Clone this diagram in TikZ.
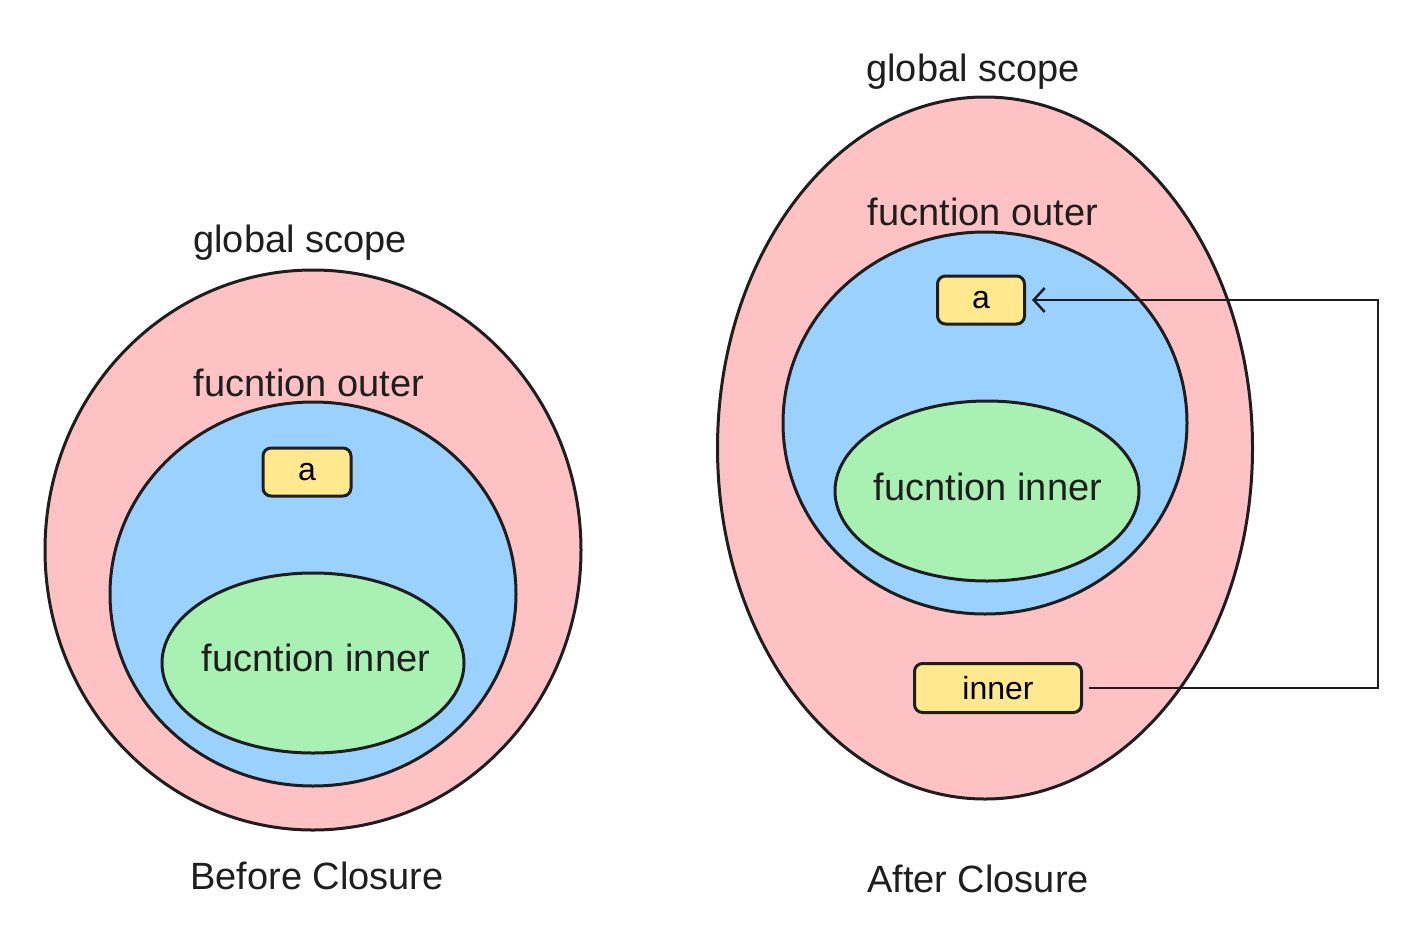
\documentclass[tikz,border=0pt]{standalone}
\usepackage{fontspec}
\setmainfont{Liberation Sans}
\usetikzlibrary{shapes.geometric,arrows.meta}
\definecolor{pinkfill}{HTML}{FFC2C4}
\definecolor{bluefill}{HTML}{9BD1FF}
\definecolor{greenfill}{HTML}{A9F0B3}
\definecolor{yellowfill}{HTML}{FFE88E}
\definecolor{ink}{HTML}{1E1E1E}
\tikzset{
  scopeshape/.style={ellipse, draw=ink, line width=3pt, inner sep=0pt},
  pinkscope/.style={scopeshape, fill=pinkfill},
  bluescope/.style={scopeshape, fill=bluefill},
  greenscope/.style={scopeshape, fill=greenfill},
  varbox/.style={draw=ink, line width=3pt, fill=yellowfill, rounded corners=8pt, inner sep=0pt, font=\fontsize{32}{34}\selectfont},
  label/.style={font=\fontsize{38}{42}\selectfont, text=ink, inner sep=0pt},
  link/.style={draw=ink, line width=2.5pt, -{Straight Barb[length=11pt,width=24pt,line width=2.5pt]}},
}
\begin{document}
\begin{tikzpicture}[x=1pt,y=-1pt]
\path[use as bounding box] (0,0) rectangle (1424,924);
% ---------- left: before closure
\node[pinkscope, minimum width=536pt, minimum height=560pt] (gl) at (313,550) {};
\node[bluescope, minimum width=406pt, minimum height=384pt] (ol) at (313,594) {};
\node[greenscope, minimum width=302pt, minimum height=180pt] (il) at (313,663) {};
\node[varbox, minimum width=88pt, minimum height=48pt] (al) at (307,472) {a};
\node[label] (tgl) at (300,243) {global scope};
\node[label] (tol) at (309,383) {fucntion outer};
\node[label] (til) at (316,658) {fucntion inner};
\node[label] (capl) at (317,876) {Before Closure};
% ---------- right: after closure
\node[pinkscope, minimum width=535pt, minimum height=702pt] (gr) at (985,448) {};
\node[bluescope, minimum width=404pt, minimum height=382pt] (or) at (985,423) {};
\node[greenscope, minimum width=304pt, minimum height=180pt] (ir) at (987,491) {};
\node[varbox, minimum width=87pt, minimum height=48pt] (ar) at (981,300) {a};
\node[varbox, minimum width=167pt, minimum height=49pt] (innerbox) at (998,688) {inner};
\node[label] (tgr) at (973,72) {global scope};
\node[label] (tor) at (983,212) {fucntion outer};
\node[label] (tir) at (988,487) {fucntion inner};
\node[label] (capr) at (978,879) {After Closure};
\coordinate (turn) at (1378,688);
\draw[link, shorten <=6pt, shorten >=6pt] (innerbox.east) -- (turn) |- (ar.east);
\end{tikzpicture}
\end{document}
